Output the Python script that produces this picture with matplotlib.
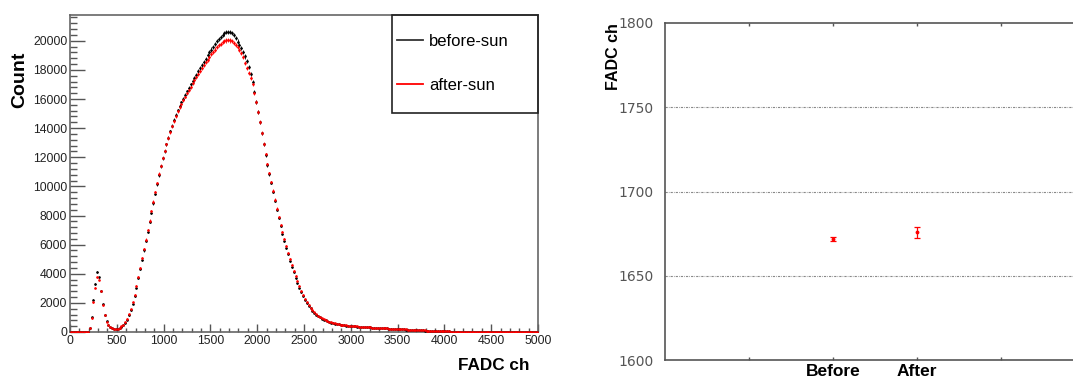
import numpy
import matplotlib
matplotlib.use('Agg')
import matplotlib.pyplot as pyplot
from matplotlib.lines import Line2D
from matplotlib.patches import Rectangle
from matplotlib.ticker import MultipleLocator, FixedLocator

pyplot.rcParams['font.family'] = ['Liberation Sans', 'DejaVu Sans']

# FADC spectrum, 20 ch bins from 0 to 5000
before_sun = [
    0, 0, 0, 0, 0, 0, 0, 0, 0, 20,
    250, 1000, 2200, 3300, 4150, 3750, 2850, 1900, 1200, 750,
    480, 340, 260, 220, 200, 220, 270, 360, 480, 640,
    850, 1150, 1500, 1950, 2480, 3050, 3680, 4320, 4960, 5600,
    6250, 6900, 7550, 8200, 8850, 9500, 10150, 10780, 11380, 11920,
    12420, 12900, 13350, 13770, 14170, 14550, 14900, 15220, 15500, 15770,
    16020, 16270, 16520, 16760, 17000, 17230, 17460, 17680, 17900, 18120,
    18340, 18560, 18780, 18990, 19200, 19400, 19600, 19800, 19980, 20140,
    20280, 20400, 20500, 20580, 20630, 20600, 20520, 20380, 20180, 19950,
    19720, 19480, 19220, 18920, 18580, 18180, 17720, 17150, 16480, 15800,
    15120, 14400, 13650, 12880, 12150, 11470, 10850, 10250, 9640, 9020,
    8400, 7820, 7270, 6750, 6250, 5780, 5330, 4900, 4490, 4100,
    3730, 3380, 3050, 2750, 2470, 2220, 2000, 1800, 1620, 1460,
    1320, 1200, 1090, 1000, 920, 850, 790, 740, 690, 650,
    610, 580, 550, 525, 500, 480, 460, 445, 430, 415,
    405, 395, 385, 375, 365, 355, 345, 335, 325, 318,
    310, 302, 295, 288, 280, 272, 265, 258, 250, 243,
    236, 229, 222, 215, 208, 200, 193, 186, 178, 171,
    164, 156, 149, 142, 135, 128, 121, 114, 108, 101,
    95, 89, 83, 77, 72, 66, 61, 56, 51, 47,
    43, 39, 35, 32, 29, 26, 23, 21, 19, 17,
    15, 13, 12, 10, 9, 8, 7, 6, 5, 5,
    4, 4, 3, 3, 3, 2, 2, 2, 2, 2,
    1, 1, 1, 1, 1, 1, 1, 1, 1, 0,
    0, 0, 0, 0, 0, 0, 0, 0, 0, 0,
]
after_sun = [
    0, 0, 0, 0, 0, 0, 0, 0, 0, 30,
    300, 950, 2050, 3050, 3750, 3600, 2800, 1850, 1150, 720,
    470, 330, 250, 215, 200, 225, 285, 385, 510, 680,
    900, 1210, 1570, 2030, 2560, 3140, 3770, 4410, 5050, 5700,
    6350, 7000, 7650, 8300, 8950, 9600, 10230, 10850, 11430, 11960,
    12450, 12900, 13330, 13740, 14130, 14500, 14840, 15150, 15430, 15690,
    15930, 16170, 16400, 16630, 16850, 17070, 17290, 17500, 17710, 17920,
    18120, 18320, 18510, 18700, 18890, 19070, 19240, 19400, 19550, 19680,
    19800, 19900, 19970, 20020, 20040, 20020, 19960, 19870, 19740, 19570,
    19380, 19150, 18860, 18480, 18100, 17800, 17450, 17000, 16430, 15780,
    15120, 14420, 13680, 12920, 12200, 11520, 10900, 10300, 9700, 9090,
    8480, 7910, 7360, 6850, 6360, 5890, 5440, 5010, 4600, 4210,
    3840, 3490, 3160, 2850, 2560, 2300, 2070, 1860, 1680, 1510,
    1360, 1230, 1120, 1020, 940, 870, 805, 750, 700, 660,
    620, 585, 555, 530, 505, 485, 465, 450, 435, 420,
    408, 398, 388, 378, 368, 358, 348, 338, 328, 320,
    312, 304, 297, 290, 282, 275, 268, 260, 252, 245,
    238, 231, 224, 217, 210, 203, 196, 188, 181, 174,
    166, 159, 152, 145, 138, 131, 124, 117, 110, 104,
    98, 92, 86, 80, 74, 68, 63, 58, 53, 49,
    45, 41, 37, 33, 30, 27, 24, 22, 20, 18,
    16, 14, 12, 11, 10, 9, 8, 7, 6, 5,
    5, 4, 4, 3, 3, 3, 2, 2, 2, 2,
    2, 1, 1, 1, 1, 1, 1, 1, 1, 1,
    0, 0, 0, 0, 0, 0, 0, 0, 0, 0,
]
bin_width = 20

# mean FADC channel before / after
periods = ['Before', 'After']
mean_ch = [1671.8, 1675.8]
mean_err = [1.0, 3.2]

fig = pyplot.figure(figsize=(10.73, 3.81), dpi=100)
W, H = 1073.0, 381.0

# figure1: spectrum
ax1 = fig.add_axes([70 / W, 1 - 332 / H, 468 / W, 317 / H])
for name, vals, col in [('before-sun', before_sun, 'black'), ('after-sun', after_sun, 'red')]:
    vals = numpy.array(vals, dtype=float)
    centers = bin_width / 2 + bin_width * numpy.arange(len(vals))
    ax1.errorbar(centers, vals, yerr=numpy.sqrt(vals), xerr=bin_width / 4, fmt='.',
                 ms=1.8, color=col, elinewidth=0.6, capsize=0, zorder=3)
ax1.set_xlim(0, 5000)
ax1.set_ylim(0, 21770)
ax1.xaxis.set_major_locator(MultipleLocator(500))
ax1.xaxis.set_minor_locator(MultipleLocator(100))
ax1.yaxis.set_major_locator(MultipleLocator(2000))
ax1.yaxis.set_minor_locator(MultipleLocator(400))
ax1.tick_params(axis='both', which='both', direction='in', color='#555555',
                labelsize=8.8, labelcolor='#222222', top=False, right=False)
ax1.tick_params(axis='y', which='major', length=10.5, width=1, pad=2)
ax1.tick_params(axis='y', which='minor', length=5, width=1)
ax1.tick_params(axis='x', which='major', length=6, width=1, pad=2.5)
ax1.tick_params(axis='x', which='minor', length=3, width=1)
for s in ax1.spines.values():
    s.set_color('#666666')
    s.set_linewidth(1.2)

# legend box
ax1.add_patch(Rectangle((0.688, 0.691), 0.312, 0.309, transform=ax1.transAxes,
                        fill=False, edgecolor='#222222', linewidth=1.2, clip_on=False, zorder=5))
handles = [Line2D([], [], color='#333333', lw=1.3), Line2D([], [], color='red', lw=1.3)]
ax1.legend(handles, ['before-sun', 'after-sun'], loc='upper left',
           bbox_to_anchor=(0.699, 0.941), frameon=False, fontsize=12,
           borderpad=0, borderaxespad=0, handlelength=1.55, handletextpad=0.35,
           labelspacing=1.75)

fig.text(20 / W, 1 - 52 / H, 'Count', rotation=90, ha='center', va='top',
         fontsize=14, fontweight='bold')
fig.text(529 / W, 1 - 365 / H, 'FADC ch', ha='right', va='center',
         fontsize=12.3, fontweight='bold')

# figure2: mean channel
ax2 = fig.add_axes([665 / W, 1 - 360 / H, 420 / W, 337 / H])
pos = [2, 3]
ax2.errorbar(pos, mean_ch, yerr=mean_err, fmt='.', ms=3.5, color='red',
             elinewidth=0.9, capsize=2.5, capthick=0.9, zorder=3)
ax2.set_xlim(0, 5)
ax2.set_ylim(1600, 1800)
ax2.set_yticks([1600, 1650, 1700, 1750, 1800])
ax2.xaxis.set_major_locator(FixedLocator([1, 2, 3, 4]))
ax2.set_xticklabels(['', periods[0], periods[1], ''], fontsize=12.5, fontweight='bold')
ax2.tick_params(axis='x', direction='in', length=2.5, width=1, color='#555555',
                top=True, pad=3)
ax2.tick_params(axis='y', length=0, pad=8, labelsize=10, labelcolor='#555555')
for lab in ax2.get_yticklabels():
    lab.set_family('DejaVu Sans')
for y in [1650, 1700, 1750]:
    ax2.axhline(y, color='#888888', lw=0.8, dashes=(2, 1, 0.6, 1), zorder=1)
for s in ax2.spines.values():
    s.set_color('#555555')
    s.set_linewidth(1.2)

fig.text(613 / W, 1 - 23 / H, 'FADC ch', rotation=90, ha='center', va='top',
         fontsize=11.5, fontweight='bold')

pyplot.savefig('out.png', dpi=100)
